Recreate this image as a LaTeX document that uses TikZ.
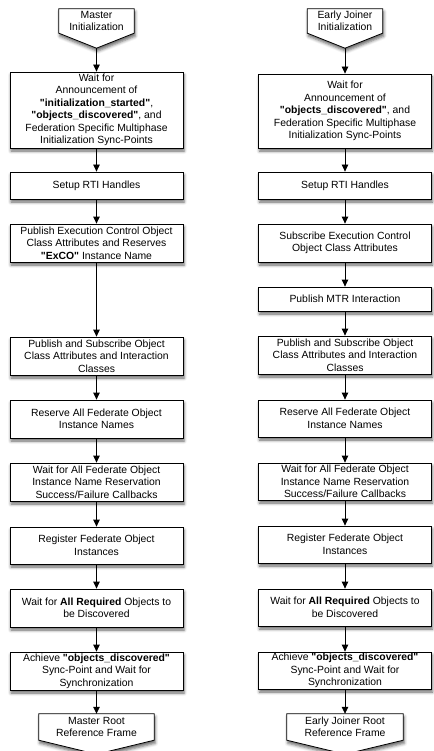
\documentclass[tikz,border=0pt]{standalone}
\usepackage{fontspec}
\setmainfont{Liberation Sans}
\usetikzlibrary{arrows.meta,shadows.blur,backgrounds}

\newcommand{\qq}[1]{\textquotedbl#1\textquotedbl}

\tikzset{
  boxfont/.style={font=\fontsize{10.4}{12.5}\selectfont},
  softshadow/.style={blur shadow={shadow xshift=1pt, shadow yshift=-3pt,
      shadow blur radius=3pt, shadow opacity=60}},
  stepbox/.style={draw=black, line width=0.8pt, fill=white, align=center,
      inner sep=0pt, minimum width=173pt, boxfont, softshadow},
  termtext/.style={align=center, inner sep=0pt, boxfont},
  termshape/.style={draw=black, line width=0.8pt, fill=white, softshadow},
  flow/.style={draw=black, line width=0.8pt, -{Triangle[length=7pt,width=6.5pt]}},
}

\begin{document}
\begin{tikzpicture}[x=1pt, y=-1pt]
\useasboundingbox (0,0) rectangle (433,751);

% ---------------- Master federate column ----------------
\node[termtext, minimum width=75pt, minimum height=24pt] (MI) at (96.5,21) {Master\\Initialization};
\coordinate (MItip) at ([yshift=-15pt]MI.south);

\node[stepbox, minimum height=76pt] (L1) at (96.5,110)
  {Wait for\\Announcement of\\\textbf{\qq{initialization\_started}},\\\textbf{\qq{objects\_discovered}}, and\\Federation Specific Multiphase\\Initialization Sync-Points};
\node[stepbox, minimum height=27pt] (L2) at (96.5,185.5) {Setup RTI Handles};
\node[stepbox, minimum height=38pt] (L3) at (96.5,243)
  {Publish Execution Control Object\\Class Attributes and Reserves\\\textbf{\qq{ExCO}} Instance Name};
\node[stepbox, minimum height=38pt] (L4) at (96.5,356)
  {Publish and Subscribe Object\\Class Attributes and Interaction\\Classes};
\node[stepbox, minimum height=38pt] (L5) at (96.5,419)
  {Reserve All Federate Object\\Instance Names};
\node[stepbox, minimum height=38pt] (L6) at (96.5,482)
  {Wait for All Federate Object\\Instance Name Reservation\\Success/Failure Callbacks};
\node[stepbox, minimum height=37pt] (L7) at (96.5,545.5)
  {Register Federate Object\\Instances};
\node[stepbox, minimum height=38pt] (L8) at (96.5,608)
  {Wait for \textbf{All Required} Objects to\\be Discovered};
\node[stepbox, minimum height=38pt] (L9) at (96.5,671)
  {Achieve \textbf{\qq{objects\_discovered}}\\Sync-Point and Wait for\\Synchronization};
\node[termtext, minimum width=115pt, minimum height=26pt] (MR) at (96.5,727) {Master Root\\Reference Frame};

% ---------------- Early joiner column ----------------
\node[termtext, minimum width=75pt, minimum height=24pt] (EI) at (345,21) {Early Joiner\\Initialization};
\coordinate (EItip) at ([yshift=-15pt]EI.south);

\node[stepbox, minimum height=74pt] (R1) at (345,111)
  {Wait for\\Announcement of\\\textbf{\qq{objects\_discovered}}, and\\Federation Specific Multiphase\\Initialization Sync-Points};
\node[stepbox, minimum height=27pt] (R2) at (345,185.5) {Setup RTI Handles};
\node[stepbox, minimum height=38pt] (R3) at (345,243)
  {Subscribe Execution Control\\Object Class Attributes};
\node[stepbox, minimum height=24pt] (R4) at (345,299) {Publish MTR Interaction};
\node[stepbox, minimum height=38pt] (R5) at (345,355)
  {Publish and Subscribe Object\\Class Attributes and Interaction\\Classes};
\node[stepbox, minimum height=37pt] (R6) at (345,418.5)
  {Reserve All Federate Object\\Instance Names};
\node[stepbox, minimum height=37pt] (R7) at (345,481.5)
  {Wait for All Federate Object\\Instance Name Reservation\\Success/Failure Callbacks};
\node[stepbox, minimum height=37pt] (R8) at (345,544.5)
  {Register Federate Object\\Instances};
\node[stepbox, minimum height=37pt] (R9) at (345,607.5)
  {Wait for \textbf{All Required} Objects to\\be Discovered};
\node[stepbox, minimum height=37pt] (R10) at (345,670.5)
  {Achieve \textbf{\qq{objects\_discovered}}\\Sync-Point and Wait for\\Synchronization};
\node[termtext, minimum width=116pt, minimum height=26pt] (ER) at (345,727) {Early Joiner Root\\Reference Frame};

% ---------------- Off-page connector outlines ----------------
\begin{scope}[on background layer]
  \path[termshape] (MI.north west) -- (MI.north east) -- (MI.south east)
    -- (MItip) -- (MI.south west) -- cycle;
  \path[termshape] (EI.north west) -- (EI.north east) -- (EI.south east)
    -- (EItip) -- (EI.south west) -- cycle;
  \path[termshape] (MR.north west) -- (MR.north east) -- (MR.south east)
    -- ([yshift=-14pt]MR.south) -- (MR.south west) -- cycle;
  \path[termshape] (ER.north west) -- (ER.north east) -- (ER.south east)
    -- ([yshift=-14pt]ER.south) -- (ER.south west) -- cycle;
\end{scope}

% ---------------- Flow connectors ----------------
\draw[flow] (MItip) -- (L1.north);
\draw[flow] (L1.south) -- (L2.north);
\draw[flow] (L2.south) -- (L3.north);
\draw[flow] (L3.south) -- (L4.north);
\draw[flow] (L4.south) -- (L5.north);
\draw[flow] (L5.south) -- (L6.north);
\draw[flow] (L6.south) -- (L7.north);
\draw[flow] (L7.south) -- (L8.north);
\draw[flow] (L8.south) -- (L9.north);
\draw[flow] (L9.south) -- (MR.north);

\draw[flow] (EItip) -- (R1.north);
\draw[flow] (R1.south) -- (R2.north);
\draw[flow] (R2.south) -- (R3.north);
\draw[flow] (R3.south) -- (R4.north);
\draw[flow] (R4.south) -- (R5.north);
\draw[flow] (R5.south) -- (R6.north);
\draw[flow] (R6.south) -- (R7.north);
\draw[flow] (R7.south) -- (R8.north);
\draw[flow] (R8.south) -- (R9.north);
\draw[flow] (R9.south) -- (R10.north);
\draw[flow] (R10.south) -- (ER.north);
\end{tikzpicture}
\end{document}
